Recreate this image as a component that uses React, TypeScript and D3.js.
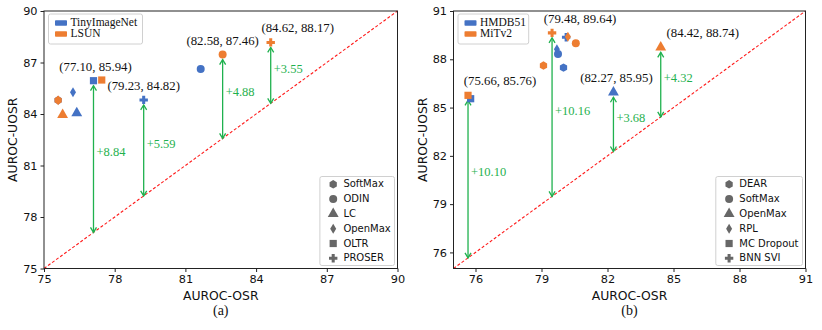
import { useEffect, useRef } from "react"
import * as d3 from "d3"

// ---- data ----
const leftMethods = ["SoftMax", "ODIN", "LC", "OpenMax", "OLTR", "PROSER"]
const leftShapes = ["hexagon", "circle", "triangle", "diamond", "square", "plus"]
const leftSeries = ["TinyImageNet", "LSUN"]
const leftTinX = [75.6, 81.65, 76.39, 76.23, 77.10, 79.23]
const leftTinY = [84.8, 86.62, 84.05, 85.26, 85.94, 84.82]
const leftLsunX = [75.6, 82.58, 75.79, 75.6, 77.45, 84.62]
const leftLsunY = [84.8, 87.46, 83.95, 84.8, 85.98, 88.17]
const leftTicks = [75, 78, 81, 84, 87, 90]
// annotated points: [x, y]
const leftHighlights = [[77.10, 85.94], [79.23, 84.82], [82.58, 87.46], [84.62, 88.17]]
const leftLabelShift = [2, 0, 0, 27]

const rightMethods = ["DEAR", "SoftMax", "OpenMax", "RPL", "MC Dropout", "BNN SVI"]
const rightShapes = ["hexagon", "circle", "triangle", "diamond", "square", "plus"]
const rightSeries = ["HMDB51", "MiTv2"]
const rightHmdbX = [80.0, 79.75, 82.27, 79.7, 75.78, 80.12]
const rightHmdbY = [87.48, 88.33, 85.95, 88.62, 85.55, 89.37]
const rightMitX = [79.09, 80.56, 84.42, 80.2, 75.66, 79.48]
const rightMitY = [87.61, 89.0, 88.74, 89.4, 85.76, 89.64]
const rightTicks = [76, 79, 82, 85, 88, 91]
const rightHighlights = [[75.66, 85.76], [79.48, 89.64], [82.27, 85.95], [84.42, 88.74]]
const rightLabelShift = [32, 28, 3, 42]

const BLUE = "#4472c4"
const ORANGE = "#ed7d31"
const GREEN = "#1fb14e"
const SERIF = "'Liberation Serif', 'Times New Roman', serif"
const SANS = "'DejaVu Sans', sans-serif"

const markerPath = (shape: string, r: number) => {
  if (shape === "hexagon") {
    const pts = d3.range(6).map(k => {
      const a = (-90 + 60 * k) * Math.PI / 180
      return [r * 1.05 * Math.cos(a), r * 1.05 * Math.sin(a)]
    })
    return "M" + pts.map(p => p.join(",")).join("L") + "Z"
  }
  if (shape === "diamond") {
    const h = r * 1.25, w = r * 0.75
    return `M0,${-h}L${w},0L0,${h}L${-w},0Z`
  }
  if (shape === "circle") return d3.symbol(d3.symbolCircle, r * r * Math.PI)()
  if (shape === "square") return d3.symbol(d3.symbolSquare, (r * 1.8) ** 2)()
  if (shape === "triangle") return d3.symbol(d3.symbolTriangle, r * r * 3.2)()
  // filled plus
  const a = r * 1.05, b = r * 0.38
  return `M${-b},${-a}H${b}V${-b}H${a}V${b}H${b}V${a}H${-b}V${b}H${-a}V${-b}H${-b}Z`
}

type PanelProps = {
  x0: number
  width: number
  domain: [number, number]
  ticks: number[]
  series: string[]
  methods: string[]
  shapes: string[]
  xs: number[][]
  ys: number[][]
  highlights: number[][]
  labelShift: number[]
  topLegendW: number
  bottomLegendW: number
  caption: string
  yLabelX: number
}

const Panel = (p: PanelProps) => {
  const ref = useRef<SVGGElement>(null)
  const top = 11
  const bottom = 268.5

  useEffect(() => {
    const g = d3.select(ref.current)
    g.selectAll("*").remove()

    const x = d3.scaleLinear().domain(p.domain).range([p.x0, p.x0 + p.width])
    const y = d3.scaleLinear().domain(p.domain).range([bottom, top])

    // diagonal y = x
    g.append("line")
      .attr("x1", x(p.domain[0])).attr("y1", y(p.domain[0]))
      .attr("x2", x(p.domain[1])).attr("y2", y(p.domain[1]))
      .attr("stroke", "#ff1a1a").attr("stroke-width", 1.1)
      .attr("stroke-dasharray", "3,2")

    // arrows with gap labels
    p.highlights.forEach(([hx, hy]) => {
      const px = x(hx)
      const y1 = y(hy) + 5
      const y2 = y(hx)
      const arr = g.append("g").attr("stroke", GREEN).attr("stroke-width", 1.3).attr("fill", "none")
      arr.append("line").attr("x1", px).attr("x2", px).attr("y1", y1).attr("y2", y2)
      arr.append("path").attr("d", `M${px - 3},${y1 + 5}L${px},${y1}L${px + 3},${y1 + 5}`)
      arr.append("path").attr("d", `M${px - 3},${y2 - 5}L${px},${y2}L${px + 3},${y2 - 5}`)
      g.append("text")
        .attr("x", px + 3).attr("y", y((hy + hx) / 2) - 3)
        .attr("dominant-baseline", "middle")
        .attr("font-family", SERIF).attr("font-size", 12.5).attr("fill", GREEN)
        .text(`+${(hy - hx).toFixed(2)}`)
    })

    // markers: first series, then second on top
    const colors = [BLUE, ORANGE]
    p.series.forEach((_, si) => {
      p.shapes.forEach((shape, mi) => {
        g.append("path")
          .attr("d", markerPath(shape, 4))
          .attr("transform", `translate(${x(p.xs[si][mi])},${y(p.ys[si][mi])})`)
          .attr("fill", colors[si])
      })
    })

    // coordinate labels
    p.highlights.forEach(([hx, hy], i) => {
      g.append("text")
        .attr("x", x(hx) + p.labelShift[i]).attr("y", y(hy) - 13)
        .attr("text-anchor", "middle").attr("dominant-baseline", "middle")
        .attr("font-family", SERIF).attr("font-size", 12.8).attr("fill", "#111")
        .text(`(${hx.toFixed(2)}, ${hy.toFixed(2)})`)
    })

    // frame
    g.append("rect")
      .attr("x", p.x0).attr("y", top).attr("width", p.width).attr("height", bottom - top)
      .attr("fill", "none").attr("stroke", "#222").attr("stroke-width", 1)

    // axes ticks
    const xa = g.append("g").attr("transform", `translate(0,${bottom})`)
      .call(d3.axisBottom(x).tickValues(p.ticks).tickSize(3.5).tickPadding(3).tickFormat(d3.format("d")))
    const ya = g.append("g").attr("transform", `translate(${p.x0},0)`)
      .call(d3.axisLeft(y).tickValues(p.ticks).tickSize(3.5).tickPadding(3).tickFormat(d3.format("d")))
    ;[xa, ya].forEach(a => {
      a.select(".domain").remove()
      a.selectAll("line").attr("stroke", "#222")
      a.selectAll("text").attr("font-family", SANS).attr("font-size", 11.3).attr("fill", "#111")
    })

    // top legend (datasets)
    const lx = p.x0 + 4.5
    const tl = g.append("g")
    tl.append("rect").attr("x", lx).attr("y", 14).attr("width", p.topLegendW).attr("height", 30)
      .attr("rx", 2).attr("fill", "white").attr("fill-opacity", 0.8).attr("stroke", "#d0d0d0")
    p.series.forEach((s, i) => {
      const cy = 23 + i * 11
      tl.append("rect").attr("x", lx + 6.5).attr("y", cy - 2.8).attr("width", 12).attr("height", 5.6)
        .attr("rx", 0.8).attr("fill", colors[i])
      tl.append("text").attr("x", lx + 22).attr("y", cy).attr("dominant-baseline", "middle")
        .attr("font-family", SERIF).attr("font-size", 11.5).attr("fill", "#111").text(s)
    })

    // bottom legend (methods)
    const bx = p.x0 + p.width - 3 - p.bottomLegendW
    const bl = g.append("g")
    bl.append("rect").attr("x", bx).attr("y", 176.5).attr("width", p.bottomLegendW).attr("height", 89)
      .attr("rx", 2).attr("fill", "white").attr("fill-opacity", 0.8).attr("stroke", "#d0d0d0")
    p.methods.forEach((m, i) => {
      const cy = 184.3 + i * 14.8
      bl.append("path").attr("d", markerPath(p.shapes[i], 4))
        .attr("transform", `translate(${bx + 13.3},${cy})`).attr("fill", "#676767")
      bl.append("text").attr("x", bx + 23.5).attr("y", cy).attr("dominant-baseline", "middle")
        .attr("font-family", SANS).attr("font-size", 10).attr("fill", "#111").text(m)
    })

    // labels
    g.append("text").attr("x", p.x0 + p.width / 2).attr("y", 299.5)
      .attr("text-anchor", "middle").attr("font-family", SANS).attr("font-size", 12.4)
      .attr("fill", "#111").text("AUROC-OSR")
    g.append("text").attr("x", p.x0 + p.width / 2).attr("y", 315)
      .attr("text-anchor", "middle").attr("font-family", SERIF).attr("font-size", 14)
      .attr("fill", "#111").text(p.caption)
    g.append("text")
      .attr("transform", `translate(${p.yLabelX},${(top + bottom) / 2}) rotate(-90)`)
      .attr("text-anchor", "middle").attr("dominant-baseline", "middle")
      .attr("font-family", SANS).attr("font-size", 12.4).attr("fill", "#111").text("AUROC-UOSR")
  })

  return <g ref={ref} />
}

const App = () => {
  return (
    <svg width={822} height={330} style={{ position: "absolute", left: 0, top: 0, background: "white" }}>
      <Panel x0={44} width={353.5} domain={[75, 90]} ticks={leftTicks}
        series={leftSeries} methods={leftMethods} shapes={leftShapes}
        xs={[leftTinX, leftLsunX]} ys={[leftTinY, leftLsunY]}
        highlights={leftHighlights} labelShift={leftLabelShift}
        topLegendW={94} bottomLegendW={74.6} caption="(a)" yLabelX={13.5} />
      <Panel x0={453.5} width={352} domain={[75, 91]} ticks={rightTicks}
        series={rightSeries} methods={rightMethods} shapes={rightShapes}
        xs={[rightHmdbX, rightMitX]} ys={[rightHmdbY, rightMitY]}
        highlights={rightHighlights} labelShift={rightLabelShift}
        topLegendW={70.7} bottomLegendW={86.7} caption="(b)" yLabelX={423} />
    </svg>
  )
}

export default App
